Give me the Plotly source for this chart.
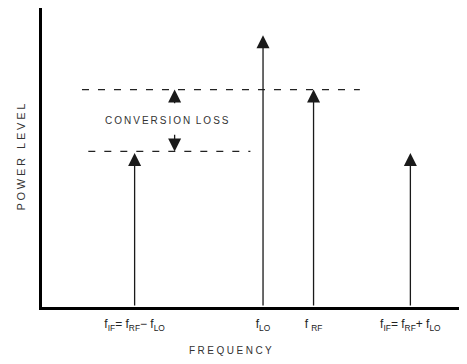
import plotly.graph_objects as go

# spectral lines of the mixer
tone_freq = [2.2, 5.25, 6.45, 8.75]
tone_level = [5.1, 9.0, 7.2, 5.1]
tone_labels = [
    "f<sub>IF</sub>= f<sub>RF</sub>\u2212 f<sub>LO</sub>",
    "f<sub>LO</sub>",
    "f <sub>RF</sub>",
    "f<sub>IF</sub>= f<sub>RF</sub>+ f<sub>LO</sub>",
]

# conversion loss markers
loss_top = 7.2
loss_bottom = 5.15
loss_x = 3.15
upper_dash_x = [0.95, 7.55]
lower_dash_x = [1.1, 4.95]


def spaced(s, gap="\u2009"):
    # mimic the wide letter spacing of the drafting lettering
    return gap.join(s)


fig = go.Figure()

# invisible trace so the axes exist
fig.add_trace(go.Scatter(x=tone_freq, y=tone_level, mode="markers",
                         marker=dict(opacity=0), hoverinfo="skip", showlegend=False))

arrow = dict(xref="x", yref="y", axref="x", ayref="y", showarrow=True, arrowhead=2,
             arrowsize=2.0, arrowwidth=1.3, arrowcolor="#1a1a1a", text="", standoff=0)

for f, lvl in zip(tone_freq, tone_level):
    fig.add_annotation(x=f, y=lvl, ax=f, ay=0, **arrow)

# dashed reference levels
dash = dict(color="#222", width=1.2, dash="7px,9px")
fig.add_shape(type="line", x0=upper_dash_x[0], x1=upper_dash_x[1], y0=loss_top, y1=loss_top, line=dash)
fig.add_shape(type="line", x0=lower_dash_x[0], x1=lower_dash_x[1], y0=loss_bottom, y1=loss_bottom, line=dash)

# conversion loss arrows
fig.add_annotation(x=loss_x, y=loss_top, ax=loss_x, ay=loss_top - 0.5, **arrow)
fig.add_annotation(x=loss_x, y=loss_bottom, ax=loss_x, ay=loss_bottom + 0.6, **arrow)
fig.add_annotation(x=2.98, y=(loss_top + loss_bottom) / 2, xref="x", yref="y", showarrow=False,
                   text=spaced("CONVERSION") + "  " + spaced("LOSS"), font=dict(size=10, color="#333"))

# axis titles
fig.add_annotation(x=0.447, y=-0.144, xref="paper", yref="paper", showarrow=False,
                   xanchor="center", yanchor="middle",
                   text=spaced("FREQUENCY", "\u2005"), font=dict(size=10, color="#333"))
fig.add_annotation(x=-0.052, y=0.5, xref="paper", yref="paper", showarrow=False, textangle=-90,
                   xanchor="center", yanchor="middle",
                   text=spaced("POWER", "\u2005") + "   " + spaced("LEVEL", "\u2005"),
                   font=dict(size=11, color="#333"))

# page body adds an 8px offset, so the figure is drawn 8px smaller
fig.update_layout(
    width=459, height=356,
    margin=dict(l=34, r=4, t=0, b=57),
    plot_bgcolor="white", paper_bgcolor="white",
    font=dict(family="Liberation Sans, Arial, sans-serif", color="#222"),
    xaxis=dict(range=[0, 10], showgrid=False, zeroline=False, showline=True, automargin=False,
               linecolor="black", linewidth=2.5, tickvals=tone_freq, ticktext=tone_labels,
               ticks="", tickfont=dict(size=12, color="#222"), ticklabelstandoff=4),
    yaxis=dict(range=[0, 9.9], showgrid=False, zeroline=False, showline=True, automargin=False,
               linecolor="black", linewidth=2.5, showticklabels=False, ticks=""),
)

fig.write_html("out.html")
